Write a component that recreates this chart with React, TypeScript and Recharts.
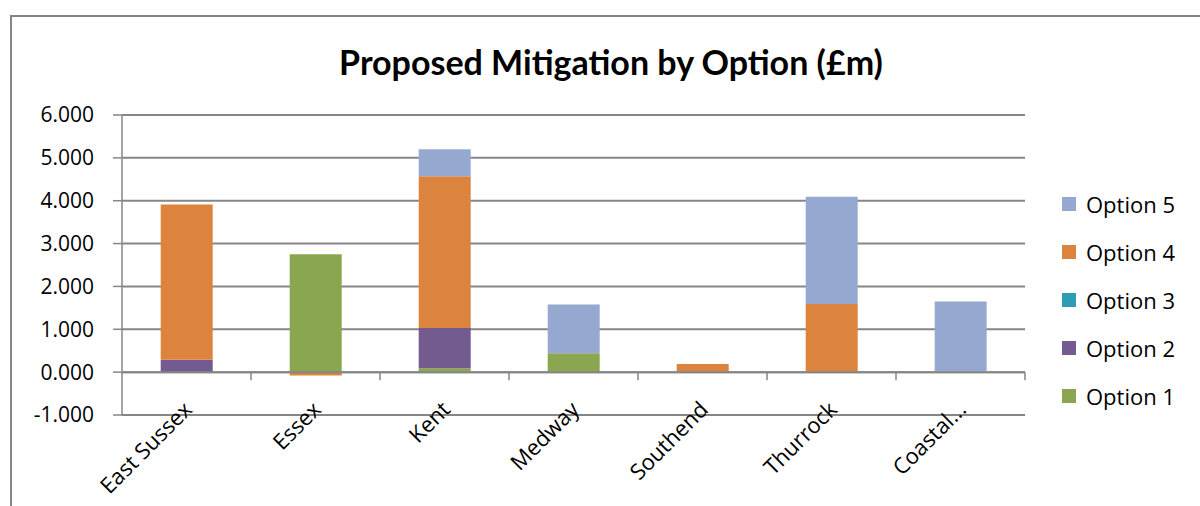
import { Bar, BarChart, CartesianGrid, ReferenceLine, XAxis, YAxis } from 'recharts';

const regions = ['East Sussex', 'Essex', 'Kent', 'Medway', 'Southend', 'Thurrock', 'Coastal...'];
const option1 = [0, 2.75, 0.09, 0.44, 0, 0, 0];
const option2 = [0.29, 0, 0.94, 0, 0, 0, 0];
const option3 = [0, 0, 0, 0, 0, 0, 0];
const option4 = [3.62, -0.08, 3.54, 0, 0.19, 1.59, 0];
const option5 = [0, 0, 0.63, 1.14, 0, 2.5, 1.65];
const yTicks = [-1, 0, 1, 2, 3, 4, 5, 6];

const series = [
  { key: 'Option 1', values: option1, color: '#8AA64E' },
  { key: 'Option 2', values: option2, color: '#735A8F' },
  { key: 'Option 3', values: option3, color: '#2E9DB3' },
  { key: 'Option 4', values: option4, color: '#DC843E' },
  { key: 'Option 5', values: option5, color: '#95A9D0' },
];

const data = regions.map((name, i) => {
  const row: Record<string, number | string> = { name };
  series.forEach((s) => {
    row[s.key] = s.values[i];
  });
  return row;
});

const W = 1200;
const H = 506;
const margin = { top: 115, right: 175, left: 0, bottom: 0 };
const yAxisWidth = 122;
const xAxisHeight = 91;
const plotW = W - margin.right - yAxisWidth;
const plotH = H - margin.top - xAxisHeight;
const band = plotW / regions.length;
const yMax = yTicks[yTicks.length - 1];
const yMin = yTicks[0];
const zeroY = margin.top + (yMax / (yMax - yMin)) * plotH;
const bottomY = margin.top + plotH;

const font = '"Open Sans", sans-serif';
const titleFont = 'Lato, "Open Sans", sans-serif';

function XTick(props: any) {
  const { x, payload } = props;
  const ax = x + 7;
  const ay = bottomY - 4;
  return (
    <g>
      <line x1={x + band / 2} x2={x + band / 2} y1={zeroY} y2={zeroY + 8} stroke="#868686" strokeWidth={1.5} />
      <text
        x={ax}
        y={ay}
        textAnchor="end"
        transform={`rotate(-45 ${ax} ${ay})`}
        fontSize={22}
        fontFamily={font}
        fill="#000"
      >
        {payload.value}
      </text>
    </g>
  );
}

function ChartLegend() {
  const items = [...series].reverse();
  return (
    <div style={{ position: 'absolute', left: 1062, top: 180, fontFamily: font, fontSize: 22, color: '#000' }}>
      {items.map((s) => (
        <div key={s.key} style={{ display: 'flex', alignItems: 'center', height: 48 }}>
          <span style={{ width: 14, height: 14, background: s.color, marginRight: 10 }} />
          <span>{s.key}</span>
        </div>
      ))}
    </div>
  );
}

export default function App() {
  return (
    <div style={{ position: 'fixed', left: 0, top: 0, width: W, height: H, overflow: 'hidden', background: '#fff' }}>
      <div
        style={{
          position: 'absolute',
          left: 10,
          top: 15,
          width: 1300,
          height: 600,
          borderLeft: '2px solid #868686',
          borderTop: '2px solid #868686',
        }}
      />
      <div
        style={{
          position: 'absolute',
          left: 0,
          width: 1222,
          top: 41,
          textAlign: 'center',
          fontFamily: titleFont,
          fontWeight: 700,
          fontSize: 34,
          lineHeight: '42px',
          color: '#000',
        }}
      >
        Proposed Mitigation by Option (£m)
      </div>
      <div style={{ position: 'absolute', left: 0, top: 0 }}>
        <BarChart width={W} height={H} data={data} margin={margin} stackOffset="sign" barCategoryGap="30%">
          <CartesianGrid vertical={false} stroke="#868686" strokeWidth={2} />
          <XAxis
            dataKey="name"
            height={xAxisHeight}
            axisLine={false}
            tickLine={false}
            interval={0}
            tick={<XTick />}
          />
          <YAxis
            width={yAxisWidth}
            domain={[yMin, yMax]}
            ticks={yTicks}
            tickFormatter={(v: number) => v.toFixed(3)}
            stroke="#868686"
            strokeWidth={1.5}
            tickSize={9}
            tickMargin={19}
            tick={{ fill: '#000', fontSize: 21, fontFamily: font }}
          />
          <ReferenceLine y={0} stroke="#868686" strokeWidth={2} />
          {series.map((s) => (
            <Bar key={s.key} dataKey={s.key} stackId="a" fill={s.color} isAnimationActive={false} />
          ))}
        </BarChart>
      </div>
      <ChartLegend />
    </div>
  );
}
